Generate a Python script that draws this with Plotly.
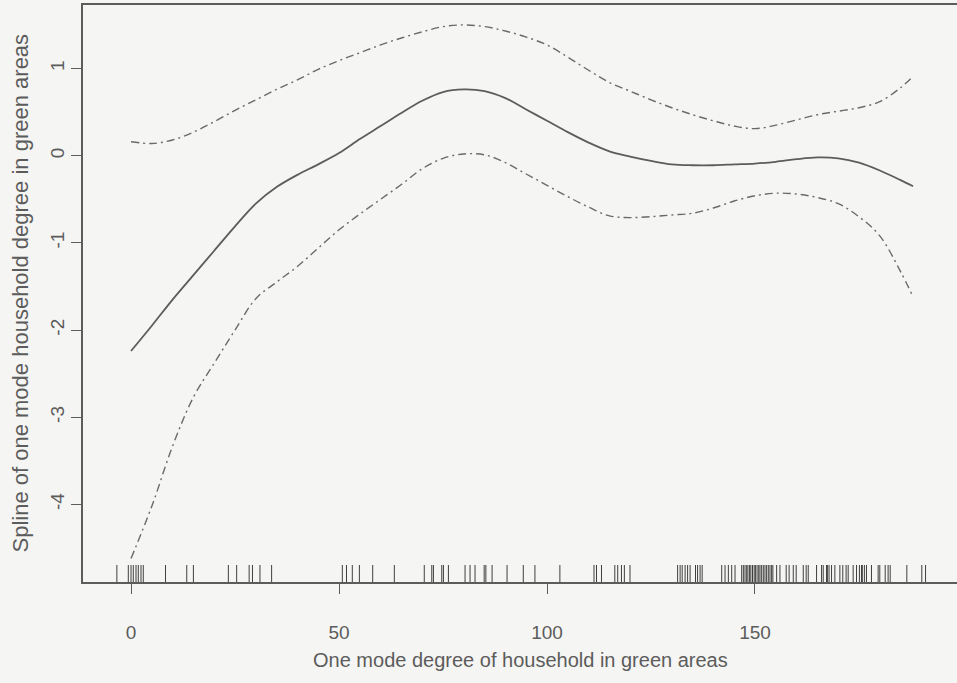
import plotly.graph_objects as go

# Smooth term s(degree) with its +/- 2 SE band
degree = [0, 5, 10, 15, 20, 25, 30, 35, 40, 45, 50, 55, 60, 65, 70, 75, 80, 85, 90, 95,
          100, 105, 110, 115, 120, 125, 130, 135, 140, 145, 150, 155, 160, 165, 170, 175,
          180, 185, 188]
fit = [-2.24, -1.95, -1.65, -1.37, -1.09, -0.81, -0.55, -0.36, -0.22, -0.10, 0.03, 0.19,
       0.34, 0.49, 0.63, 0.73, 0.76, 0.74, 0.66, 0.53, 0.40, 0.27, 0.15, 0.05, -0.01,
       -0.06, -0.10, -0.11, -0.11, -0.10, -0.09, -0.07, -0.04, -0.02, -0.03, -0.08, -0.17,
       -0.28, -0.35]
upper = [0.16, 0.14, 0.18, 0.27, 0.39, 0.52, 0.64, 0.76, 0.87, 0.99, 1.09, 1.18, 1.27,
         1.35, 1.42, 1.48, 1.50, 1.48, 1.43, 1.36, 1.27, 1.13, 0.98, 0.84, 0.74, 0.64,
         0.55, 0.47, 0.40, 0.34, 0.31, 0.35, 0.41, 0.47, 0.51, 0.55, 0.62, 0.78, 0.91]
lower = [-4.62, -4.02, -3.33, -2.77, -2.38, -2.00, -1.64, -1.45, -1.27, -1.06, -0.85,
         -0.67, -0.50, -0.33, -0.15, -0.03, 0.02, 0.01, -0.08, -0.21, -0.34, -0.47, -0.59,
         -0.69, -0.71, -0.70, -0.68, -0.66, -0.60, -0.52, -0.46, -0.43, -0.44, -0.48,
         -0.55, -0.70, -0.92, -1.33, -1.62]

# Jittered covariate values shown as a rug
rug_x = [-3.4, -0.65, 0.0, 0.55, 1.2, 1.75, 2.4, 2.95, 8.3, 13.4, 15.0, 23.4, 25.4, 28.4,
         29.2, 31.0, 33.8, 50.8, 51.8, 53.2, 54.9, 58.1, 63.3, 70.5, 72.3, 72.7, 74.7,
         75.1, 76.3, 80.3, 81.5, 82.7, 84.9, 85.3, 86.8, 90.4, 94.3, 97.1, 103.1, 111.3,
         111.9, 113.1, 116.3, 117.0, 117.9, 118.6, 119.95, 131.4, 132.0, 132.5, 133.2,
         133.8, 134.4, 135.7, 136.2, 136.8, 137.3, 142.0, 142.8, 143.6, 144.4, 145.2,
         146.8, 147.2, 147.6, 148.0, 148.3, 148.7, 149.0, 149.4, 149.8, 150.1, 150.5,
         150.9, 151.2, 151.6, 152.0, 152.4, 152.8, 153.2, 153.6, 154.0, 154.3, 155.2,
         156.0, 157.5, 158.2, 159.2, 159.9, 161.6, 162.3, 162.8, 164.8, 166.0, 166.4,
         167.2, 167.4, 167.8, 168.4, 169.2, 170.4, 171.1, 171.9, 172.4, 173.6, 174.4,
         175.1, 175.6, 175.8, 176.3, 176.8, 178.0, 179.6, 180.0, 181.3, 182.0, 182.5,
         186.5, 190.1, 191.0]

x_ticks = [0, 50, 100, 150]
y_ticks = [-4, -3, -2, -1, 0, 1]

X_RANGE = [-11.54, 198.56]
Y_RANGE = [-4.889, 1.728]
RUG_LEN = 0.195

GREY = "#5c5c5c"
BG = "#f5f5f3"
FONT = "Liberation Sans, Arial, sans-serif"

rx, ry = [], []
for v in rug_x:
    rx += [v, v, None]
    ry += [Y_RANGE[0], Y_RANGE[0] + RUG_LEN, None]

fig = go.Figure()
fig.add_trace(go.Scatter(x=rx, y=ry, mode="lines",
                         line=dict(color="#3f3f3f", width=1), hoverinfo="skip"))
fig.add_trace(go.Scatter(x=degree, y=upper, mode="lines", line_shape="spline",
                         line=dict(color="#6a6a6a", width=1.4, dash="8px,4px,2px,4px")))
fig.add_trace(go.Scatter(x=degree, y=lower, mode="lines", line_shape="spline",
                         line=dict(color="#6a6a6a", width=1.4, dash="8px,4px,2px,4px")))
fig.add_trace(go.Scatter(x=degree, y=fit, mode="lines", line_shape="spline",
                         line=dict(color=GREY, width=1.8)))

fig.update_layout(
    width=957, height=683,
    margin=dict(l=83, r=0, t=5, b=101),
    paper_bgcolor=BG, plot_bgcolor=BG,
    showlegend=False,
    font=dict(family=FONT, color=GREY, size=19),
    xaxis=dict(range=X_RANGE, tickvals=x_ticks, ticktext=[str(v) for v in x_ticks],
               ticks="outside", ticklen=10,
               tickcolor=GREY, tickwidth=1.3, showgrid=False, zeroline=False,
               showline=True, linecolor=GREY, linewidth=1.8, mirror=True,
               ticklabelstandoff=22, tickfont=dict(size=19, color=GREY)),
    yaxis=dict(range=Y_RANGE, tickvals=y_ticks, ticktext=[str(v) for v in y_ticks],
               ticks="outside", ticklen=10,
               tickcolor=GREY, tickwidth=1.3, showgrid=False, zeroline=False,
               showline=True, linecolor=GREY, linewidth=1.8, mirror=False,
               tickangle=-90, ticklabelstandoff=0, tickfont=dict(size=19, color=GREY)),
    annotations=[
        dict(text="One mode degree of household in green areas", xref="paper",
             yref="paper", x=0.5, y=0, xanchor="center", yanchor="middle",
             yshift=-78, showarrow=False,
             font=dict(size=20, color=GREY)),
        dict(text="Spline of one mode household degree in green areas", xref="paper",
             yref="paper", x=0, y=0.5, xanchor="center", yanchor="middle",
             xshift=-63, textangle=-90,
             showarrow=False, font=dict(size=22, color=GREY)),
    ],
)

fig.write_html("out.html")
